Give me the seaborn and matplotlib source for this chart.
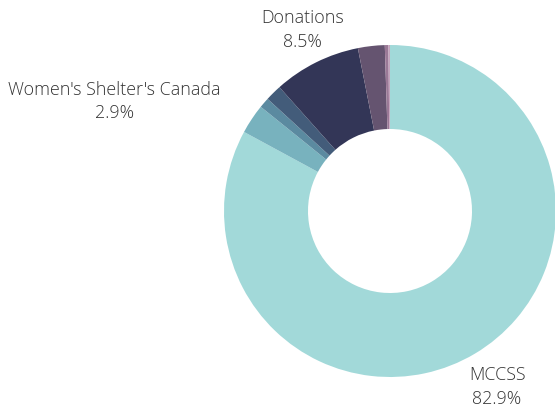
import matplotlib
matplotlib.use("Agg")
import matplotlib.pyplot as plt
import seaborn as sns
import pandas as pd

# funding sources (share of total, %), clockwise from the top
sources = ["MCCSS", "Women's Shelter's Canada", "Other 1", "Other 2",
           "Donations", "Other 3", "Other 4", "Other 5"]
shares = [82.9, 2.9, 1.0, 1.6, 8.5, 2.6, 0.35, 0.15]
colors = ["#a2d9d9", "#78b2be", "#5b8aa0", "#435c7a",
          "#333657", "#655470", "#9a7896", "#c4a3bd"]

# only these get a label on the chart
shown = {"MCCSS": (0.645, -1.06), "Women's Shelter's Canada": (-1.66, 0.66),
         "Donations": (-0.525, 1.09)}

df = pd.DataFrame({"source": sources, "share": shares, "color": colors})

sns.set_theme(style="white")
plt.rcParams['font.family'] = ['Open Sans', 'DejaVu Sans']

fig = plt.figure(figsize=(5.55, 4.08), dpi=100)
ax = fig.add_axes([0, 0, 1, 1])

ax.pie(df['share'], colors=df['color'], startangle=90, counterclock=False,
       radius=1.0, wedgeprops=dict(width=0.506, edgecolor='none'))

# pixel-equal scaling so the ring stays round
ax.set_aspect('auto')
ax.set_xlim(-390 / 166, 165 / 166)
ax.set_ylim(-197 / 166, 211 / 166)
ax.axis('off')

for _, row in df.iterrows():
    if row['source'] in shown:
        x, y = shown[row['source']]
        ax.text(x, y, f"{row['source']}\n{row['share']:.1f}%", ha='center', va='center',
                fontsize=12.9, color='#333333', linespacing=1.4, fontweight='light')

fig.savefig("out.png", dpi=100)
